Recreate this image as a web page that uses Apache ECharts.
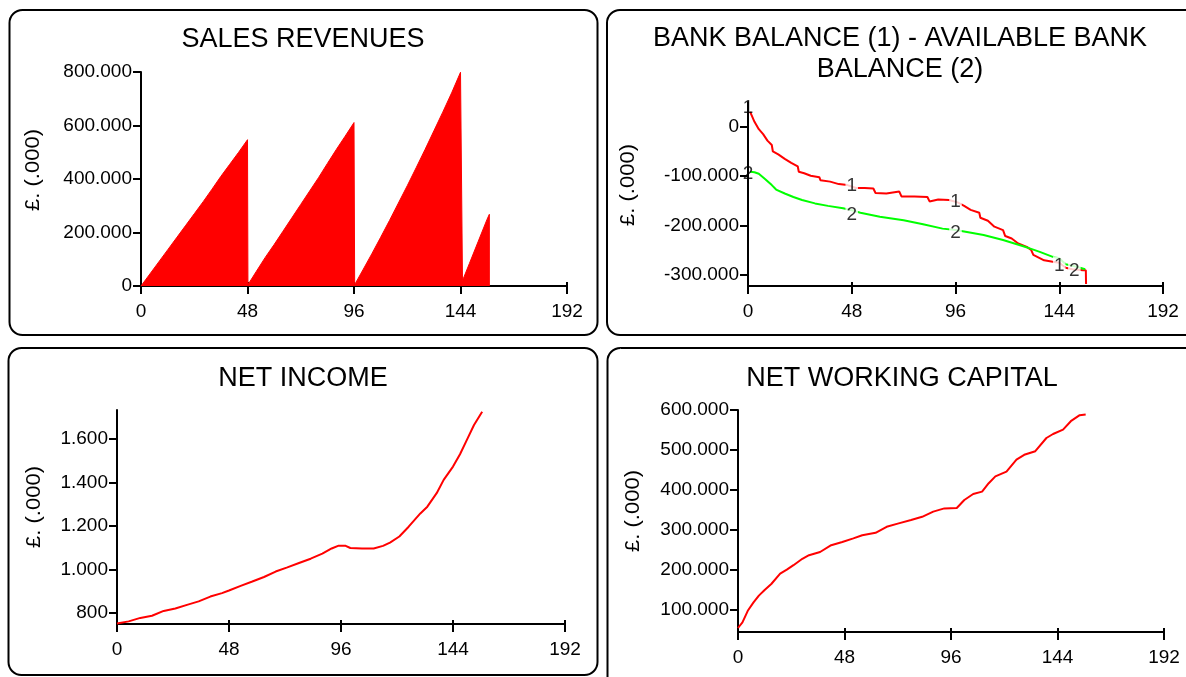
<!DOCTYPE html>
<html>
<head>
<meta charset="utf-8">
<script src="https://cdn.jsdelivr.net/npm/echarts@6/dist/echarts.min.js"></script>
<style>
  html, body { margin: 0; padding: 0; background: #fff; }
  #chart { width: 1186px; height: 677px; }
</style>
</head>
<body>
<div id="chart"></div>
<script>
// hours on every x axis
const xTicks = [0, 48, 96, 144, 192]

// sales revenues (sawtooth, filled)
const salesHours = [0, 4, 8, 12, 16, 20, 24, 28, 32, 36, 40, 44, 48,
  48.2, 52, 56, 60, 64, 68, 72, 76, 80, 84, 88, 92, 96,
  96.3, 100, 104, 108, 112, 116, 120, 124, 128, 132, 136, 140, 144,
  144.9, 148, 152, 156, 157, 157]
const salesValues = [0, 45000, 90000, 135000, 180000, 225000, 270000, 315000, 362000, 410000, 455000, 500000, 547000,
  5000, 55000, 107000, 155000, 205000, 255000, 305000, 355000, 405000, 458000, 510000, 560000, 611000,
  5000, 60000, 120000, 182000, 245000, 310000, 375000, 442000, 510000, 580000, 650000, 722000, 799000,
  20000, 84000, 167000, 250000, 268000, 0]
const salesTicks = [0, 200000, 400000, 600000, 800000]

// bank balance (1)
const bankHours = [1, 3, 5, 7, 9, 11, 11.5, 14, 17, 20, 23, 23.5, 26, 29, 33, 33.5, 38, 42, 46, 50,
  54, 58, 59, 64, 70, 71, 77, 83, 84, 88, 93, 97, 100, 103, 107, 107.5, 111, 114, 118, 119,
  122, 125, 129, 131, 132, 137, 141, 144, 147, 150, 155, 156.3, 156.4]
const bankValues = [30000, 10000, -5000, -15000, -28000, -37000, -50000, -56000, -65000, -73000,
  -80000, -91000, -94000, -99000, -102000, -108000, -111000, -116000, -118000, -124000,
  -124000, -125000, -134000, -135000, -131000, -141000, -141000, -142000, -151000, -147000,
  -148000, -153000, -160000, -168000, -174000, -184000, -190000, -202000, -209000, -221000,
  -226000, -236000, -243000, -249000, -259000, -270000, -273000, -275000, -285000, -288000,
  -290000, -290000, -318000]
// available bank balance (2)
const availHours = [1, 3, 5, 8, 11, 13, 17, 21, 25, 31, 37, 44, 48, 52, 61, 72, 81, 90, 96, 100,
  109, 118, 127, 131, 135, 141, 144, 147, 152, 156]
const availValues = [-91000, -92000, -95000, -106000, -118000, -127000, -135000, -142000, -148000, -155000,
  -160000, -165000, -169000, -174000, -182000, -189000, -197000, -206000, -209000, -212000,
  -219000, -229000, -241000, -247000, -253000, -263000, -266000, -278000, -283000, -288000]
// curve labels "1" / "2"
const bankLabelHours = [0, 48, 96, 144]
const bankLabelValues = [39000, -120000, -152000, -281000]
const availLabelHours = [0, 48, 96, 151]
const availLabelValues = [-95000, -177000, -215000, -292000]
const bankTicks = [-300000, -200000, -100000, 0]

// net income
const incomeHours = [0, 5, 10, 15, 20, 25, 30, 35, 40, 45, 48, 53, 58, 63, 68, 73, 78, 83, 88, 92,
  95, 98, 100, 105, 110, 114, 117, 121, 125, 130, 133, 137, 140, 144, 147, 150, 153, 156.5]
const incomeValues = [752, 762, 778, 788, 810, 821, 838, 854, 876, 892, 904, 925, 945, 966, 991, 1010, 1030, 1050, 1073, 1097,
  1110, 1109, 1099, 1097, 1097, 1109, 1124, 1152, 1197, 1258, 1289, 1351, 1412, 1473, 1530, 1597, 1664, 1725]
const incomeTicks = [800, 1000, 1200, 1400, 1600]

// net working capital
const capitalHours = [0, 2, 4.4, 7, 9.4, 12, 15, 19, 22, 25, 29, 32, 37, 42, 47, 52, 56, 62, 67, 72,
  78, 83, 88, 93, 98.6, 102, 106, 110, 113, 116, 121, 125.5, 129, 134, 139, 142, 146.5, 150, 154, 156.7]
const capitalValues = [55000, 69000, 98000, 119000, 136000, 150000, 165000, 191000, 201000, 212000,
  228000, 237000, 245000, 262000, 270000, 279000, 287000, 293000, 308000, 316000,
  325000, 333000, 346000, 354000, 355000, 375000, 390000, 396000, 417000, 434000,
  446000, 476000, 488000, 497000, 530000, 540000, 551000, 572000, 587000, 589000]
const capitalTicks = [100000, 200000, 300000, 400000, 500000, 600000]

const FONT = '"Liberation Sans", Arial, sans-serif'
const pts = (xs, ys) => xs.map((x, i) => [x, ys[i]])
const dots = v => (v < 0 ? '-' : '') + String(Math.round(Math.abs(v))).replace(/\B(?=(\d{3})+(?!\d))/g, '.')

const black = { color: '#000', width: 2 }

const xAxisPair = grid => [
  {
    gridIndex: grid, type: 'value', min: xTicks[0], max: xTicks[xTicks.length - 1], interval: 48,
    axisLine: { onZero: false, lineStyle: black },
    axisTick: { length: 8, lineStyle: black },
    axisLabel: { margin: 16, color: '#000', fontSize: 19, fontFamily: FONT },
    splitLine: { show: false }
  },
  {
    gridIndex: grid, type: 'value', position: 'bottom', min: xTicks[0], max: xTicks[xTicks.length - 1], interval: 48,
    axisLine: { show: false, onZero: false },
    axisTick: { inside: true, length: 4, lineStyle: black },
    axisLabel: { show: false },
    splitLine: { show: false }
  }
]

const yAxis = (grid, min, max, ticks) => ({
  gridIndex: grid, type: 'value', min, max,
  axisLine: { show: true, onZero: false, lineStyle: black },
  axisTick: { show: true, length: 8, customValues: ticks, lineStyle: black },
  axisLabel: { customValues: ticks, margin: 9, formatter: dots, color: '#000', fontSize: 19, fontFamily: FONT },
  splitLine: { show: false }
})

const curve = (axis, data, color) => ({
  type: 'line', xAxisIndex: axis * 2, yAxisIndex: axis, data,
  showSymbol: false, lineStyle: { color, width: 2 }
})

const curveLabels = (data, text) => ({
  type: 'scatter', xAxisIndex: 2, yAxisIndex: 1, symbolSize: 1, z: 5,
  itemStyle: { color: 'rgba(0,0,0,0)' },
  label: { show: true, position: 'inside', formatter: text, color: '#000', fontSize: 19, fontFamily: FONT },
  data: data.map((p, i) => ({ value: p, label: i ? { backgroundColor: '#fff', padding: [0, 1] } : {} }))
})

const box = (x, y, width, height) => ({
  type: 'rect', shape: { x, y, width, height, r: 13 },
  style: { fill: 'none', stroke: '#000', lineWidth: 2 }, silent: true
})

const yName = (x, y) => ({
  type: 'text', x, y, rotation: Math.PI / 2, scaleX: 1.1,
  style: { text: '£. (.000)', fill: '#000', font: '20px ' + FONT, align: 'center', verticalAlign: 'middle' }
})

const titleStyle = { color: '#000', fontSize: 27, fontWeight: 'normal', fontFamily: FONT, lineHeight: 31 }

const chart = echarts.init(document.getElementById('chart'))
chart.setOption({
  animation: false,
  title: [
    { text: 'SALES REVENUES', left: 298, top: 19, textAlign: 'center', textStyle: titleStyle },
    { text: 'BANK BALANCE (1) - AVAILABLE BANK\nBALANCE (2)', left: 895, top: 18, textAlign: 'center', textStyle: titleStyle },
    { text: 'NET INCOME', left: 298, top: 358, textAlign: 'center', textStyle: titleStyle },
    { text: 'NET WORKING CAPITAL', left: 897, top: 358, textAlign: 'center', textStyle: titleStyle }
  ],
  grid: [
    { left: 141, top: 72, width: 426, height: 214 },
    { left: 748, top: 102, width: 415, height: 184 },
    { left: 117, top: 410, width: 448, height: 214 },
    { left: 738, top: 410, width: 426, height: 222 }
  ],
  xAxis: [...xAxisPair(0), ...xAxisPair(1), ...xAxisPair(2), ...xAxisPair(3)],
  yAxis: [
    yAxis(0, 0, 800000, salesTicks),
    yAxis(1, -322000, 50000, bankTicks),
    yAxis(2, 750, 1733, incomeTicks),
    yAxis(3, 45000, 600000, capitalTicks)
  ],
  series: [
    {
      type: 'line', xAxisIndex: 0, yAxisIndex: 0, data: pts(salesHours, salesValues),
      showSymbol: false, lineStyle: { color: '#f00', width: 1 },
      areaStyle: { color: '#f00', opacity: 1 }
    },
    curve(1, pts(bankHours, bankValues), '#f00'),
    curve(1, pts(availHours, availValues), '#00ff00'),
    curveLabels(pts(bankLabelHours, bankLabelValues), '1'),
    curveLabels(pts(availLabelHours, availLabelValues), '2'),
    curve(2, pts(incomeHours, incomeValues), '#f00'),
    curve(3, pts(capitalHours, capitalValues), '#f00')
  ],
  graphic: [
    box(9.5, 10, 588, 325),
    box(607, 10, 600, 325),
    box(8.5, 348, 589, 327),
    box(607.5, 348, 600, 360),
    yName(33, 170),
    yName(628, 185),
    yName(34, 507),
    yName(633, 511)
  ]
})
</script>
</body>
</html>
